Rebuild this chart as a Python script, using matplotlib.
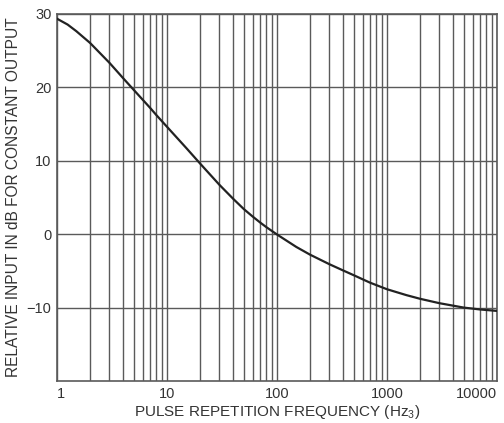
import numpy as np
import matplotlib
matplotlib.use("Agg")
import matplotlib.pyplot as plt
from matplotlib.ticker import FixedLocator, NullFormatter

plt.rcParams['font.family'] = ['Liberation Sans', 'DejaVu Sans']
plt.rcParams['mathtext.fontset'] = 'custom'
plt.rcParams['mathtext.rm'] = 'Liberation Sans'

# values
freq = [1, 1.25, 1.5, 2, 3, 4, 5, 6, 7, 8, 10, 15, 20, 30, 40, 50, 60, 70,
        80, 100, 150, 200, 300, 400, 500, 700, 1000, 1500, 2000, 3000, 5000,
        7000, 10000]
rel_db = [29.3, 28.5, 27.6, 26.0, 23.3, 21.2, 19.6, 18.3, 17.2, 16.2, 14.6,
          11.7, 9.6, 6.7, 4.8, 3.4, 2.4, 1.6, 0.95, -0.05, -1.75, -2.8, -4.1,
          -4.95, -5.6, -6.6, -7.5, -8.3, -8.8, -9.4, -10.0, -10.25, -10.45]

xticks = [1, 10, 100, 1000, 10000]
xticklabels = ['1', '10', '100', '1000', '10000']
yticks = [-10, 0, 10, 20, 30]

grey = '#5a5a5a'
txt = '#333333'

fig = plt.figure(figsize=(5.04, 4.23), dpi=100)
ax = fig.add_axes([0.113, 0.099, 0.873, 0.869])

ax.plot(freq, rel_db, color='#222222', lw=1.6, zorder=3)

ax.set_xscale('log')
ax.set_xlim(1, 10000)
ax.set_ylim(-20, 30)

ax.xaxis.set_major_locator(FixedLocator(xticks))
ax.set_xticklabels(xticklabels)
minors = [m * 10 ** d for d in range(4) for m in range(2, 10)]
ax.xaxis.set_minor_locator(FixedLocator(minors))
ax.xaxis.set_minor_formatter(NullFormatter())
ax.set_yticks(yticks)

ax.grid(True, which='both', axis='x', color=grey, lw=1.0)
ax.grid(True, which='major', axis='y', color=grey, lw=1.0)
ax.tick_params(which='both', length=0, labelsize=10.5, colors=txt, pad=4)

# first label sits just right of the axis, last one is pulled inside
labs = ax.get_xticklabels()
labs[0].set_horizontalalignment('left')
labs[-1].set_horizontalalignment('right')

for s in ax.spines.values():
    s.set_color(grey)
    s.set_linewidth(1.2)

ax.set_xlabel(r'PULSE REPETITION FREQUENCY (Hz$_{3}$)', fontsize=11,
              color=txt, labelpad=2)
ax.set_ylabel('RELATIVE INPUT IN dB FOR CONSTANT OUTPUT', fontsize=11.2,
              color=txt, labelpad=4)

fig.savefig('out.png', dpi=100)
